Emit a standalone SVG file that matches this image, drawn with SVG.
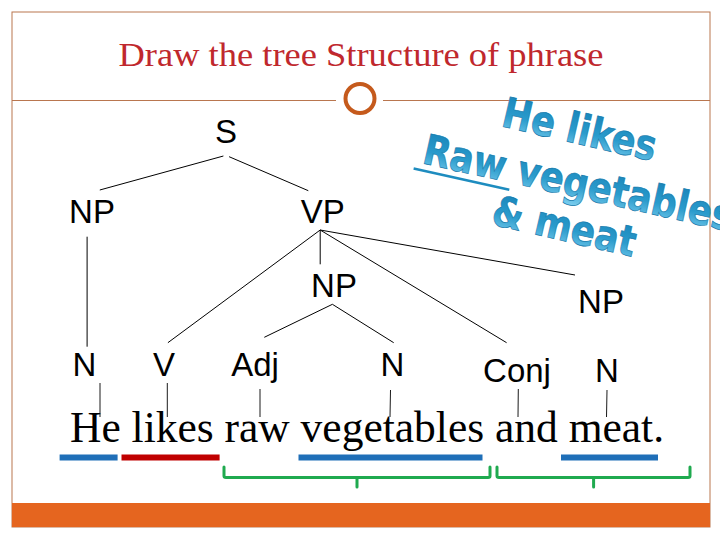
<svg xmlns="http://www.w3.org/2000/svg" width="720" height="540" viewBox="0 0 720 540">
<style>
.lbl{font-family:"Liberation Sans",Arial,sans-serif;font-size:33px;fill:#000;text-anchor:middle}
.ln{stroke:#000;stroke-width:1;fill:none}
.tk{stroke:#000;stroke-width:0.9;fill:none}
.wa{font-family:"DejaVu Sans",Verdana,sans-serif;font-weight:bold;font-size:42px;fill:url(#wg);stroke:#177aab;stroke-width:0.7}
.bar{stroke-width:6;fill:none}
.br{stroke:#1faa4f;stroke-width:3;fill:none;stroke-linejoin:round;stroke-linecap:round}
</style>
<defs>
<linearGradient id="wg" x1="0" y1="0" x2="0" y2="1">
<stop offset="0" stop-color="#1580b6"/>
<stop offset="0.55" stop-color="#2a9bcc"/>
<stop offset="1" stop-color="#7fd0f0"/>
</linearGradient>
</defs>
<rect x="0" y="0" width="720" height="540" fill="#fff"/>
<g id="frame">
<rect x="12" y="12" width="698" height="515" fill="none" stroke="#b9764f" stroke-width="1"/>
<line x1="12" y1="100.5" x2="336" y2="100.5" stroke="#b9764f" stroke-width="1"/>
<line x1="383" y1="100.5" x2="710" y2="100.5" stroke="#b9764f" stroke-width="1"/>
<circle cx="360" cy="98.5" r="14.5" fill="#fff" stroke="#c55a1c" stroke-width="4"/>
<rect x="12" y="503" width="698" height="24" fill="#e5651f"/>
</g>
<g id="title">
<text x="361" y="66" font-family="'Liberation Serif','Times New Roman',serif" font-size="33" fill="#c0282d" text-anchor="middle" textLength="485" lengthAdjust="spacingAndGlyphs">Draw the tree Structure of phrase</text>
</g>
<g id="wordart">
<text class="wa" transform="translate(500,126) rotate(13)" textLength="157" lengthAdjust="spacingAndGlyphs">He likes</text>
<g transform="translate(421,163) rotate(12.5)">
<text class="wa" textLength="316" lengthAdjust="spacingAndGlyphs">Raw vegetables</text>
<line x1="-6" y1="7" x2="92" y2="7" stroke="#1e8cbf" stroke-width="2.5"/>
</g>
<text class="wa" transform="translate(490,224) rotate(13)" textLength="146" lengthAdjust="spacingAndGlyphs">&amp; meat</text>
</g>
<g id="connectors">
<line class="ln" x1="223.4" y1="156" x2="99.8" y2="190"/>
<line class="ln" x1="229.1" y1="156.7" x2="308.3" y2="190.7"/>
<line class="ln" x1="87.1" y1="236.7" x2="87.1" y2="346.7"/>
<line class="ln" x1="320.2" y1="230" x2="167.9" y2="342.7"/>
<line class="ln" x1="320.2" y1="230" x2="320.2" y2="264.3"/>
<line class="ln" x1="320.2" y1="230" x2="506.6" y2="342.7"/>
<line class="ln" x1="320.2" y1="230" x2="575" y2="275"/>
<line class="ln" x1="332.4" y1="304.3" x2="264.3" y2="337.3"/>
<line class="ln" x1="332.4" y1="304.3" x2="393.7" y2="342.7"/>
<line class="tk" x1="100" y1="383" x2="100" y2="417"/>
<line class="tk" x1="167.3" y1="383" x2="167.3" y2="417"/>
<line class="tk" x1="260" y1="389" x2="260" y2="417"/>
<line class="tk" x1="390.5" y1="390" x2="390" y2="417"/>
<line class="tk" x1="518.3" y1="389" x2="518" y2="417"/>
<line class="tk" x1="607" y1="390" x2="606.5" y2="417"/>
</g>
<g id="n-S"><text class="lbl" x="226" y="143">S</text></g>
<g id="n-NP1"><text class="lbl" x="92" y="223">NP</text></g>
<g id="n-VP"><text class="lbl" x="322.7" y="223">VP</text></g>
<g id="n-NP2"><text class="lbl" x="334" y="297">NP</text></g>
<g id="n-NP3"><text class="lbl" x="601" y="313">NP</text></g>
<g id="n-N1"><text class="lbl" x="84.5" y="376">N</text></g>
<g id="n-V"><text class="lbl" x="164" y="376">V</text></g>
<g id="n-Adj"><text class="lbl" x="255" y="376">Adj</text></g>
<g id="n-N2"><text class="lbl" x="392.5" y="376">N</text></g>
<g id="n-Conj"><text class="lbl" x="517" y="382">Conj</text></g>
<g id="n-N3"><text class="lbl" x="607" y="382">N</text></g>
<g id="sentence">
<text x="70" y="442" font-family="'Liberation Serif','Times New Roman',serif" font-size="44" fill="#000" textLength="594" lengthAdjust="spacingAndGlyphs">He likes raw vegetables and meat.</text>
</g>
<g id="underlines">
<line class="bar" x1="59.6" y1="457.5" x2="117.6" y2="457.5" stroke="#1f6fb8"/>
<line class="bar" x1="121.5" y1="457.5" x2="219.6" y2="457.5" stroke="#c00000"/>
<line class="bar" x1="298.5" y1="457.5" x2="482.5" y2="457.5" stroke="#1f6fb8"/>
<line class="bar" x1="561" y1="457.5" x2="658" y2="457.5" stroke="#1f6fb8"/>
</g>
<g id="braces">
<path class="br" d="M224,467 L224,476 Q224,477.5 226,477.5 L488,477.5 Q490,477.5 490,476 L490,467 M357,477.5 L357,487"/>
<path class="br" d="M497,467 L497,476 Q497,477.5 499,477.5 L688,477.5 Q690,477.5 690,476 L690,467 M593.6,477.5 L593.6,487"/>
</g>
</svg>
